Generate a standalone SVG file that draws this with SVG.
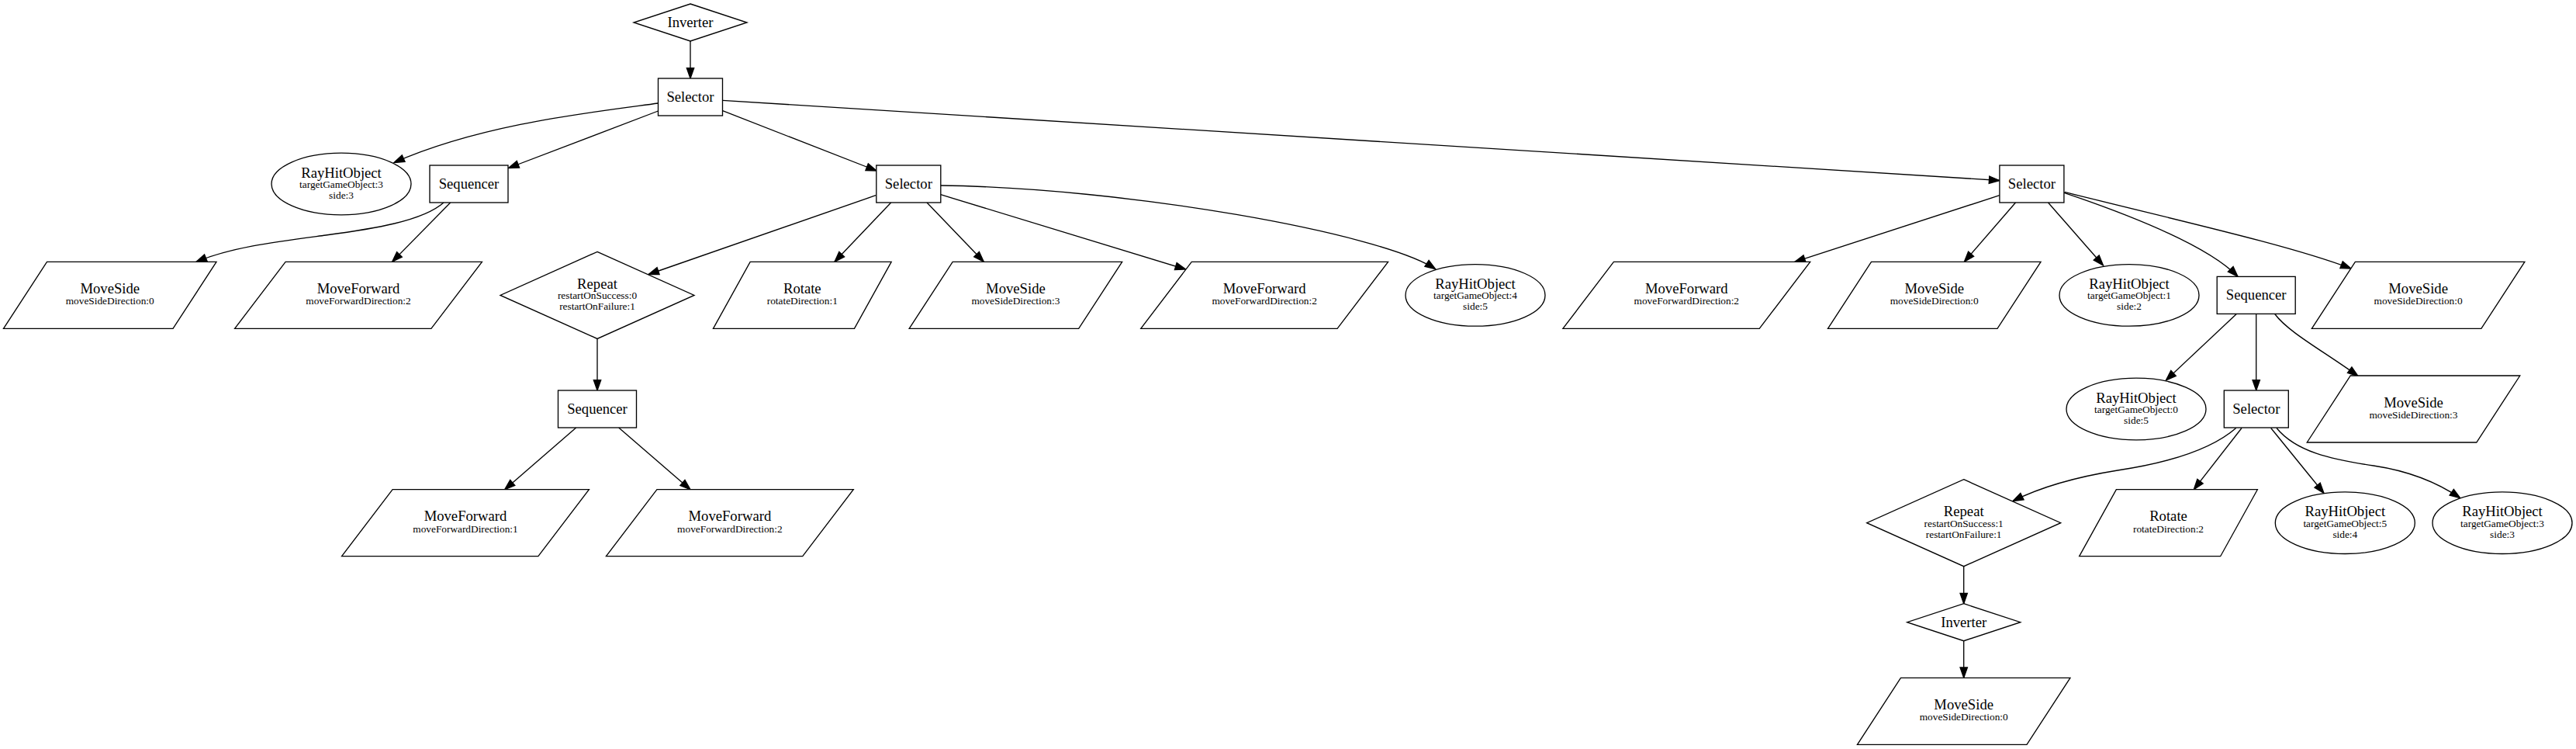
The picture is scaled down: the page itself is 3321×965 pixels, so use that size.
<svg xmlns="http://www.w3.org/2000/svg" xmlns:xlink="http://www.w3.org/1999/xlink" width="3321" height="965" viewBox="0 0 3321 965">
<style>
.n{fill:#fff;stroke:#000;stroke-width:1.33}
.e{fill:none;stroke:#000;stroke-width:1.33;marker-end:url(#ah)}
text{font-family:"Liberation Serif","Times New Roman",serif;text-anchor:middle;fill:#000}
.t{font-size:18.67px}
.s{font-size:13.33px}
</style>
<defs>
<marker id="ah" markerUnits="userSpaceOnUse" markerWidth="18" markerHeight="14" viewBox="-2 -7 18 14" refX="13.33" refY="0" orient="auto">
<path d="M0,-4.67 L13.33,0 L0,4.67 Z" fill="#000" stroke="#000" stroke-width="1.33"/>
</marker>
<polygon id="ms" class="n" points="-81.25,-43 137.25,-43 81.25,43 -137.25,43"/>
<polygon id="mf" class="n" points="-93.9,-43 159.4,-43 93.9,43 -159.4,43"/>
<polygon id="rot" class="n" points="-67.15,-43 114.85,-43 67.15,43 -114.85,43"/>
<ellipse id="ell" class="n" cx="0" cy="0" rx="90" ry="39.8"/>
<rect id="b83" class="n" x="-41.5" y="-24" width="83" height="48"/>
<rect id="b101" class="n" x="-50.5" y="-24" width="101" height="48"/>
<polygon id="rep" class="n" points="0,-56 125,0 0,56 -125,0"/>
<polygon id="inv" class="n" points="0,-24 73,0 0,24 -73,0"/>
</defs>
<rect width="3321" height="965" fill="#fff"/>
<g id="connectors">
<path class="e" d="M890,53 L890,101"/>
<path class="e" d="M848.5,133 C760,145 620,160 508,209.5"/>
<path class="e" d="M848.5,143 L655.5,216.5"/>
<path class="e" d="M572,261 C545,285 480,295 420,303 C360,311 300,318 253,337.3"/>
<path class="e" d="M580.7,261 L505.6,337.3"/>
<path class="e" d="M931.6,142.7 L1130,220"/>
<path class="e" d="M931.6,129.3 L2577.8,232.5"/>
<path class="e" d="M1129,251.7 L836,353.5"/>
<path class="e" d="M1148.7,261 L1076,337.3"/>
<path class="e" d="M1195,261 L1268.3,337.3"/>
<path class="e" d="M1212.7,250.7 L1528.5,347"/>
<path class="e" d="M1212.7,239 C1450,242 1780,300 1850.6,346.7"/>
<path class="e" d="M2577.8,251.7 L2313.8,337.3"/>
<path class="e" d="M2598.5,261 L2532.4,337.3"/>
<path class="e" d="M2640.5,261 L2711.5,342"/>
<path class="e" d="M2661,248.3 C2740,275 2845,315 2885,356.3"/>
<path class="e" d="M2661.7,247.3 C2790,280 2950,315 3031,346"/>
<path class="e" d="M2883.3,404.5 L2792.3,490"/>
<path class="e" d="M2908.7,404.5 L2908.7,503"/>
<path class="e" d="M2932.7,404.5 C2950,428 2995,452 3040,484.5"/>
<path class="e" d="M2882.7,551.5 C2850,580 2790,597 2730,606 C2680,614 2630,628 2595,645.5"/>
<path class="e" d="M2890,551.5 L2828.3,630.7"/>
<path class="e" d="M2927.7,551.5 L2996,635.5"/>
<path class="e" d="M2935,551.5 C2960,582 3005,592 3060,600 C3100,606 3140,620 3171.7,641.7"/>
<path class="e" d="M2531.7,729.7 L2531.7,777.7"/>
<path class="e" d="M2531.7,825.7 L2531.7,873.3"/>
<path class="e" d="M770,436.4 L770,503"/>
<path class="e" d="M742.7,551 L650.7,630.7"/>
<path class="e" d="M797.7,551 L890,630.7"/>
</g>
<g id="n0"><use xlink:href="#inv" transform="translate(890,29)"/><text class="t" x="890" y="35">Inverter</text></g>
<g id="n1"><use xlink:href="#b83" transform="translate(890,125)"/><text class="t" x="890" y="131">Selector</text></g>
<g id="n2"><use xlink:href="#ell" transform="translate(440,237)"/><text class="t" x="440" y="228.5">RayHitObject</text><text class="s" x="440" y="242">targetGameObject:3</text><text class="s" x="440" y="256">side:3</text></g>
<g id="n3"><use xlink:href="#b101" transform="translate(604.5,237)"/><text class="t" x="604.5" y="243">Sequencer</text></g>
<g id="n4"><use xlink:href="#b83" transform="translate(1171.3,237)"/><text class="t" x="1171.3" y="243">Selector</text></g>
<g id="n5"><use xlink:href="#b83" transform="translate(2619.4,237)"/><text class="t" x="2619.4" y="243">Selector</text></g>
<g id="n6"><use xlink:href="#ms" transform="translate(141.75,380.4)"/><text class="t" x="141.75" y="377.9">MoveSide</text><text class="s" x="141.75" y="392.4">moveSideDirection:0</text></g>
<g id="n7"><use xlink:href="#mf" transform="translate(462,380.4)"/><text class="t" x="462" y="377.9">MoveForward</text><text class="s" x="462" y="392.4">moveForwardDirection:2</text></g>
<g id="n8"><use xlink:href="#rep" transform="translate(770,380.4)"/><text class="t" x="770" y="371.9">Repeat</text><text class="s" x="770" y="385.4">restartOnSuccess:0</text><text class="s" x="770" y="399.4">restartOnFailure:1</text></g>
<g id="n9"><use xlink:href="#rot" transform="translate(1034.3,380.4)"/><text class="t" x="1034.3" y="377.9">Rotate</text><text class="s" x="1034.3" y="392.4">rotateDirection:1</text></g>
<g id="n10"><use xlink:href="#ms" transform="translate(1309.4,380.4)"/><text class="t" x="1309.4" y="377.9">MoveSide</text><text class="s" x="1309.4" y="392.4">moveSideDirection:3</text></g>
<g id="n11"><use xlink:href="#mf" transform="translate(1630.15,380.4)"/><text class="t" x="1630.15" y="377.9">MoveForward</text><text class="s" x="1630.15" y="392.4">moveForwardDirection:2</text></g>
<g id="n12"><use xlink:href="#ell" transform="translate(1902,380.4)"/><text class="t" x="1902" y="371.9">RayHitObject</text><text class="s" x="1902" y="385.4">targetGameObject:4</text><text class="s" x="1902" y="399.4">side:5</text></g>
<g id="n13"><use xlink:href="#mf" transform="translate(2174.3,380.4)"/><text class="t" x="2174.3" y="377.9">MoveForward</text><text class="s" x="2174.3" y="392.4">moveForwardDirection:2</text></g>
<g id="n14"><use xlink:href="#ms" transform="translate(2493.75,380.4)"/><text class="t" x="2493.75" y="377.9">MoveSide</text><text class="s" x="2493.75" y="392.4">moveSideDirection:0</text></g>
<g id="n15"><use xlink:href="#ell" transform="translate(2745,380.4)"/><text class="t" x="2745" y="371.9">RayHitObject</text><text class="s" x="2745" y="385.4">targetGameObject:1</text><text class="s" x="2745" y="399.4">side:2</text></g>
<g id="n16"><use xlink:href="#b101" transform="translate(2908.7,380.4)"/><text class="t" x="2908.7" y="386.4">Sequencer</text></g>
<g id="n17"><use xlink:href="#ms" transform="translate(3117.6,380.4)"/><text class="t" x="3117.6" y="377.9">MoveSide</text><text class="s" x="3117.6" y="392.4">moveSideDirection:0</text></g>
<g id="n18"><use xlink:href="#b101" transform="translate(770,527)"/><text class="t" x="770" y="533">Sequencer</text></g>
<g id="n19"><use xlink:href="#ell" transform="translate(2754,527)"/><text class="t" x="2754" y="518.5">RayHitObject</text><text class="s" x="2754" y="532">targetGameObject:0</text><text class="s" x="2754" y="546">side:5</text></g>
<g id="n20"><use xlink:href="#b83" transform="translate(2908.8,527)"/><text class="t" x="2908.8" y="533">Selector</text></g>
<g id="n21"><use xlink:href="#ms" transform="translate(3111.5,527)"/><text class="t" x="3111.5" y="524.5">MoveSide</text><text class="s" x="3111.5" y="539">moveSideDirection:3</text></g>
<g id="n22"><use xlink:href="#mf" transform="translate(600,673.7)"/><text class="t" x="600" y="671.2">MoveForward</text><text class="s" x="600" y="685.7">moveForwardDirection:1</text></g>
<g id="n23"><use xlink:href="#mf" transform="translate(940.85,673.7)"/><text class="t" x="940.85" y="671.2">MoveForward</text><text class="s" x="940.85" y="685.7">moveForwardDirection:2</text></g>
<g id="n24"><use xlink:href="#rep" transform="translate(2531.7,673.7)"/><text class="t" x="2531.7" y="665.2">Repeat</text><text class="s" x="2531.7" y="678.7">restartOnSuccess:1</text><text class="s" x="2531.7" y="692.7">restartOnFailure:1</text></g>
<g id="n25"><use xlink:href="#rot" transform="translate(2795.5,673.7)"/><text class="t" x="2795.5" y="671.2">Rotate</text><text class="s" x="2795.5" y="685.7">rotateDirection:2</text></g>
<g id="n26"><use xlink:href="#ell" transform="translate(3023.3,673.7)"/><text class="t" x="3023.3" y="665.2">RayHitObject</text><text class="s" x="3023.3" y="678.7">targetGameObject:5</text><text class="s" x="3023.3" y="692.7">side:4</text></g>
<g id="n27"><use xlink:href="#ell" transform="translate(3226,673.7)"/><text class="t" x="3226" y="665.2">RayHitObject</text><text class="s" x="3226" y="678.7">targetGameObject:3</text><text class="s" x="3226" y="692.7">side:3</text></g>
<g id="n28"><use xlink:href="#inv" transform="translate(2531.7,801.7)"/><text class="t" x="2531.7" y="807.7">Inverter</text></g>
<g id="n29"><use xlink:href="#ms" transform="translate(2531.7,916.3)"/><text class="t" x="2531.7" y="913.8">MoveSide</text><text class="s" x="2531.7" y="928.3">moveSideDirection:0</text></g>
</svg>
